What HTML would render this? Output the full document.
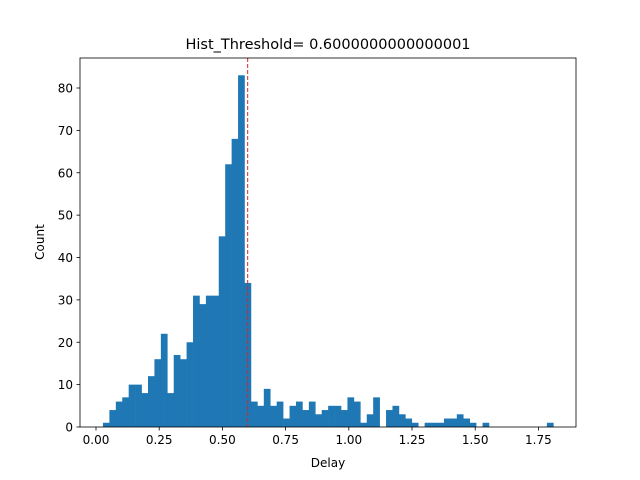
<!DOCTYPE html>
<html><head><meta charset="utf-8"><style>
body{margin:0;background:#fff}
svg{display:block;font-family:"DejaVu Sans","Liberation Sans",sans-serif}
</style></head><body>
<svg id="chart" width="640" height="480" viewBox="0 0 640 480">
<rect width="640" height="480" fill="#fff"/>
<g id="bars"></g>
<g id="xticks"></g>
<g id="yticks"></g>
<g id="thr"></g>
<rect x="80" y="58" width="496" height="369" fill="none" stroke="#000" stroke-width="0.8"/>
<text x="328" y="49" text-anchor="middle" font-size="14.5">Hist_Threshold= 0.6000000000000001</text>
<text x="328" y="467" text-anchor="middle" font-size="12">Delay</text>
<text x="44" y="242" text-anchor="middle" font-size="12" transform="rotate(-90 44 242)">Count</text>
</svg>
<script>
const counts = [1,4,6,7,10,10,8,12,16,22,8,17,16,20,31,29,31,31,45,62,68,83,34,6,5,9,5,6,2,5,6,4,6,3,4,5,5,4,7,6,1,3,7,0,4,5,3,2,1,0,1,1,1,2,2,3,2,1,0,1,0,0,0,0,0,0,0,0,0,1];
const binStart = 0.0275;
const binWidth = 0.02545;
const threshold = 0.6000000000000001;
const xTicks = [0, 0.25, 0.5, 0.75, 1.0, 1.25, 1.5, 1.75];
const xTickLabels = ["0.00","0.25","0.50","0.75","1.00","1.25","1.50","1.75"];
const yTicks = [0,10,20,30,40,50,60,70,80];

const NS = "http://www.w3.org/2000/svg";
const X0 = 80, X1 = 576, Y0 = 427, Y1 = 58;
const xMin = -0.0633, xMax = 1.8987, yMax = 87.08;
const sx = v => X0 + (v - xMin) / (xMax - xMin) * (X1 - X0);
const sy = v => Y0 - v / yMax * (Y0 - Y1);
function mk(tag, attrs, parent) {
  const e = document.createElementNS(NS, tag);
  for (const k in attrs) e.setAttribute(k, attrs[k]);
  parent.appendChild(e);
  return e;
}
const gb = document.getElementById('bars');
counts.forEach((c, i) => {
  if (c <= 0) return;
  const a = sx(binStart + i * binWidth), b = sx(binStart + (i + 1) * binWidth);
  const r = mk('rect', {x: a, y: sy(c), width: b - a + 0.3, height: sy(0) - sy(c), fill: '#1f77b4'}, gb);
  
  
});
const gx = document.getElementById('xticks');
xTicks.forEach((t, i) => {
  const x = sx(t);
  const l = mk('line', {x1: x, x2: x, y1: Y0, y2: Y0 + 3.5, stroke: '#000', 'stroke-width': 0.8}, gx);
  
  
  const tx = mk('text', {x: x, y: Y0 + 17, 'text-anchor': 'middle', 'font-size': 12}, gx);
  tx.textContent = xTickLabels[i];
  
  
});
const gy = document.getElementById('yticks');
yTicks.forEach(t => {
  const y = sy(t);
  const l = mk('line', {x1: X0 - 3.5, x2: X0, y1: y, y2: y, stroke: '#000', 'stroke-width': 0.8}, gy);
  
  
  const tx = mk('text', {x: X0 - 7, y: y + 4.5, 'text-anchor': 'end', 'font-size': 12}, gy);
  tx.textContent = String(t);
  
  
});
const tl = mk('line', {x1: sx(threshold), x2: sx(threshold), y1: Y1, y2: Y0, stroke: '#d62728', 'stroke-width': 1, 'stroke-dasharray': '4,2'}, document.getElementById('thr'));


</script>
</body></html>
